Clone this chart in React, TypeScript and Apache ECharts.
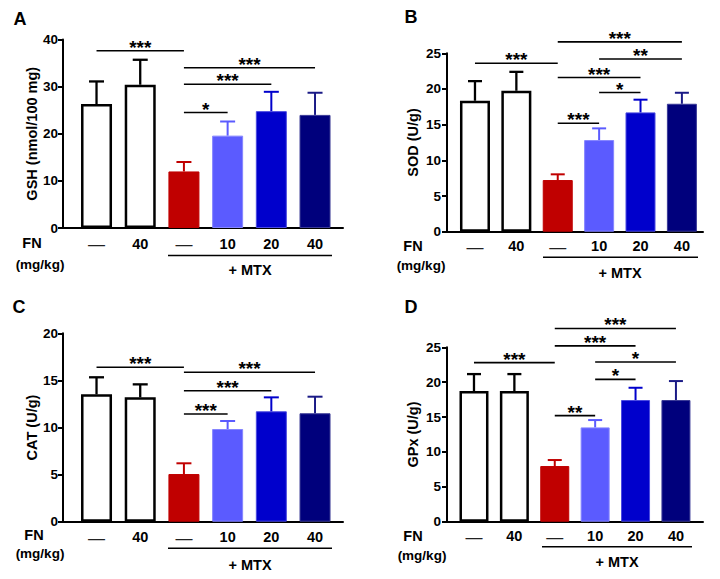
import React, { useEffect, useRef } from "react";
import * as echarts from "echarts";

// ---------- data ----------
const groupLabels = ["—", "40", "—", "10", "20", "40"];

const gshMean = [26.3, 30.4, 12.0, 19.6, 24.8, 24.0];
const gshErr = [4.8, 5.3, 2.0, 3.0, 4.1, 4.7];
const gshBrackets = [
  [0, 2, 37.6],
  [2, 5, 34.0],
  [2, 4, 30.5],
  [2, 3, 24.5],
];
const gshStars = ["***", "***", "***", "*"];

const sodMean = [18.35, 19.75, 7.24, 12.84, 16.72, 17.93];
const sodErr = [2.75, 2.65, 0.8, 1.64, 1.78, 1.54];
const sodBrackets = [
  [2, 5, 26.6],
  [3, 5, 24.2],
  [0, 2, 23.6],
  [2, 4, 21.6],
  [3, 4, 19.5],
  [2, 3, 15.2],
];
const sodStars = ["***", "**", "***", "***", "*", "***"];

const catMean = [13.52, 13.2, 5.06, 9.84, 11.72, 11.51];
const catErr = [1.81, 1.38, 1.14, 0.85, 1.48, 1.76];
const catBrackets = [
  [0, 2, 16.4],
  [2, 5, 15.86],
  [2, 4, 13.9],
  [2, 3, 11.43],
];
const catStars = ["***", "***", "***", "***"];

const gpxMean = [18.73, 18.73, 7.98, 13.52, 17.44, 17.44];
const gpxErr = [2.43, 2.43, 0.86, 1.05, 1.76, 2.72];
const gpxBrackets = [
  [2, 5, 27.7],
  [2, 4, 25.2],
  [0, 2, 22.8],
  [3, 5, 22.9],
  [3, 4, 20.4],
  [2, 3, 15.2],
];
const gpxStars = ["***", "***", "***", "*", "*", "**"];

const panelLetters = ["A", "B", "C", "D"];
const axisNames = ["GSH (nmol/100 mg)", "SOD (U/g)", "CAT (U/g)", "GPx (U/g)"];
const yMaxes = [40, 25, 20, 25];
const ySteps = [10, 5, 5, 5];
const means = [gshMean, sodMean, catMean, gpxMean];
const errs = [gshErr, sodErr, catErr, gpxErr];
const brackets = [gshBrackets, sodBrackets, catBrackets, gpxBrackets];
const stars = [gshStars, sodStars, catStars, gpxStars];

// ---------- styles ----------
const FONT = "'Liberation Sans', Arial, Helvetica, sans-serif";
const fills = ["#ffffff", "#ffffff", "#c00000", "#5b5bff", "#0000cc", "#00007c"];
const borders = ["#000000", "#000000", "#c00000", "#8585ff", "#4a4ae0", "#3a3a96"];
const borderWidths = [2.5, 2.5, 1, 1, 1, 1];
const errColors = ["#000000", "#000000", "#c00000", "#5b5bff", "#0000cc", "#1a1a86"];

// ---------- layout ----------
const layouts = [
  {
    grid: { left: 63, top: 39.5, width: 280, height: 188.5 },
    xMin: -0.767, xMax: 5.64, barW: 31, cap: 15, yLabMargin: 5, nameGap: 24, xLabMargin: 8,
    letter: [20, 19], fn: [32, 243], mgkg: [40, 264], mtxLine: [168, 332, 255.5], mtxText: [250, 270],
  },
  {
    grid: { left: 447, top: 53.3, width: 256, height: 178.4 },
    xMin: -0.676, xMax: 5.51, barW: 30, cap: 14, yLabMargin: 6, nameGap: 27, xLabMargin: 7,
    letter: [411, 17], fn: [413, 246], mgkg: [421, 265.7], mtxLine: [543, 698, 257.3], mtxText: [620, 272.7],
  },
  {
    grid: { left: 63, top: 333.3, width: 280, height: 188.4 },
    xMin: -0.767, xMax: 5.64, barW: 31, cap: 15, yLabMargin: 5, nameGap: 24, xLabMargin: 8,
    letter: [19, 307], fn: [34, 535], mgkg: [40, 553.3], mtxLine: [168, 332, 548.3], mtxText: [250, 565],
  },
  {
    grid: { left: 447, top: 347.3, width: 256, height: 174.4 },
    xMin: -0.668, xMax: 5.67, barW: 29, cap: 14, yLabMargin: 6, nameGap: 27, xLabMargin: 7,
    letter: [411, 307], fn: [413, 536], mgkg: [422, 555], mtxLine: [542, 692, 546.7], mtxText: [617, 561.7],
  },
];

function buildOption() {
  const grid: any[] = [];
  const xAxis: any[] = [];
  const yAxis: any[] = [];
  const series: any[] = [];
  const graphic: any[] = [];

  layouts.forEach((L, p) => {
    grid.push({ ...L.grid, containLabel: false });
    xAxis.push({
      type: "value",
      gridIndex: p,
      min: L.xMin,
      max: L.xMax,
      splitLine: { show: false },
      axisTick: { show: false },
      axisLine: { show: true, onZero: false, lineStyle: { color: "#000", width: 2 } },
      axisLabel: {
        show: true,
        customValues: [0, 1, 2, 3, 4, 5],
        margin: L.xLabMargin,
        formatter: (v: number) => {
          const lab = groupLabels[Math.round(v)];
          if (lab === undefined) return "";
          return lab === "—" ? "{d|—}" : "{n|" + lab + "}";
        },
        rich: {
          d: { fontSize: 17, fontWeight: "normal", color: "#222", fontFamily: FONT },
          n: { fontSize: 14.5, fontWeight: "bold", color: "#000", fontFamily: FONT },
        },
      },
    });
    yAxis.push({
      type: "value",
      gridIndex: p,
      min: 0,
      max: yMaxes[p],
      interval: ySteps[p],
      name: axisNames[p],
      nameLocation: "middle",
      nameRotate: 90,
      nameGap: L.nameGap,
      nameTextStyle: { fontSize: 14.5, fontWeight: "bold", color: "#000", fontFamily: FONT },
      splitLine: { show: false },
      axisLine: { show: true, onZero: false, lineStyle: { color: "#000", width: 2 } },
      axisTick: { show: true, inside: false, length: 5, lineStyle: { color: "#000", width: 2 } },
      axisLabel: { margin: L.yLabMargin, fontSize: 13.5, fontWeight: "bold", color: "#000", fontFamily: FONT },
    });

    const m = means[p];
    const e = errs[p];
    series.push({
      type: "bar",
      xAxisIndex: p,
      yAxisIndex: p,
      barWidth: L.barW,
      z: 2,
      data: m.map((v, j) => ({
        value: [j, v],
        itemStyle: { color: fills[j], borderColor: borders[j], borderWidth: borderWidths[j] },
      })),
    });
    series.push({
      type: "custom",
      xAxisIndex: p,
      yAxisIndex: p,
      z: 3,
      data: m.map((v, j) => [j, v, v + e[j]]),
      encode: { x: 0, y: [1, 2] },
      renderItem: (params: any, api: any) => {
        const j = params.dataIndex;
        const x = api.value(0);
        const lo = api.coord([x, api.value(1)]);
        const hi = api.coord([x, api.value(2)]);
        const col = errColors[j];
        const lw = j < 2 ? 2.3 : 2;
        return {
          type: "group",
          children: [
            { type: "line", shape: { x1: lo[0], y1: lo[1], x2: hi[0], y2: hi[1] }, style: { stroke: col, lineWidth: lw } },
            {
              type: "line",
              shape: { x1: hi[0] - L.cap / 2, y1: hi[1], x2: hi[0] + L.cap / 2, y2: hi[1] },
              style: { stroke: col, lineWidth: lw },
            },
          ],
        };
      },
    });
    const br = brackets[p];
    const st = stars[p];
    series.push({
      type: "custom",
      xAxisIndex: p,
      yAxisIndex: p,
      z: 4,
      clip: false,
      data: br.map((b) => [b[0], b[1], b[2]]),
      encode: { x: [0, 1], y: 2 },
      renderItem: (params: any, api: any) => {
        const a = api.coord([api.value(0), api.value(2)]);
        const b = api.coord([api.value(1), api.value(2)]);
        return {
          type: "group",
          children: [
            { type: "line", shape: { x1: a[0], y1: a[1], x2: b[0], y2: b[1] }, style: { stroke: "#000", lineWidth: 1.6 } },
            {
              type: "text",
              x: (a[0] + b[0]) / 2,
              y: a[1] - 3.5,
              style: {
                text: st[params.dataIndex],
                fontSize: 19,
                fontWeight: "bold",
                fontFamily: FONT,
                fill: "#000",
                align: "center",
                verticalAlign: "middle",
              },
            },
          ],
        };
      },
    });

    const textStyle = (t: string, size: number) => ({
      text: t,
      fontSize: size,
      fontWeight: "bold",
      fontFamily: FONT,
      fill: "#000",
      align: "center",
      verticalAlign: "middle",
    });
    graphic.push({ type: "text", x: L.letter[0], y: L.letter[1], style: textStyle(panelLetters[p], 18) });
    graphic.push({ type: "text", x: L.fn[0], y: L.fn[1], style: textStyle("FN", 14.5) });
    graphic.push({ type: "text", x: L.mgkg[0], y: L.mgkg[1], style: textStyle("(mg/kg)", 13.5) });
    graphic.push({
      type: "line",
      shape: { x1: L.mtxLine[0], y1: L.mtxLine[2], x2: L.mtxLine[1], y2: L.mtxLine[2] },
      style: { stroke: "#000", lineWidth: 1.6 },
    });
    graphic.push({ type: "text", x: L.mtxText[0], y: L.mtxText[1], style: textStyle("+ MTX", 14.5) });
  });

  return {
    animation: false,
    backgroundColor: "#ffffff",
    grid,
    xAxis,
    yAxis,
    series,
    graphic,
  };
}

export default function App() {
  const ref = useRef<HTMLDivElement>(null);
  useEffect(() => {
    if (!ref.current) return;
    const chart = echarts.init(ref.current, undefined, { renderer: "svg" });
    chart.setOption(buildOption() as any);
    return () => chart.dispose();
  }, []);
  return (
    <div
      ref={ref}
      style={{ position: "absolute", left: 0, top: 0, width: 720, height: 579, background: "#fff" }}
    />
  );
}
